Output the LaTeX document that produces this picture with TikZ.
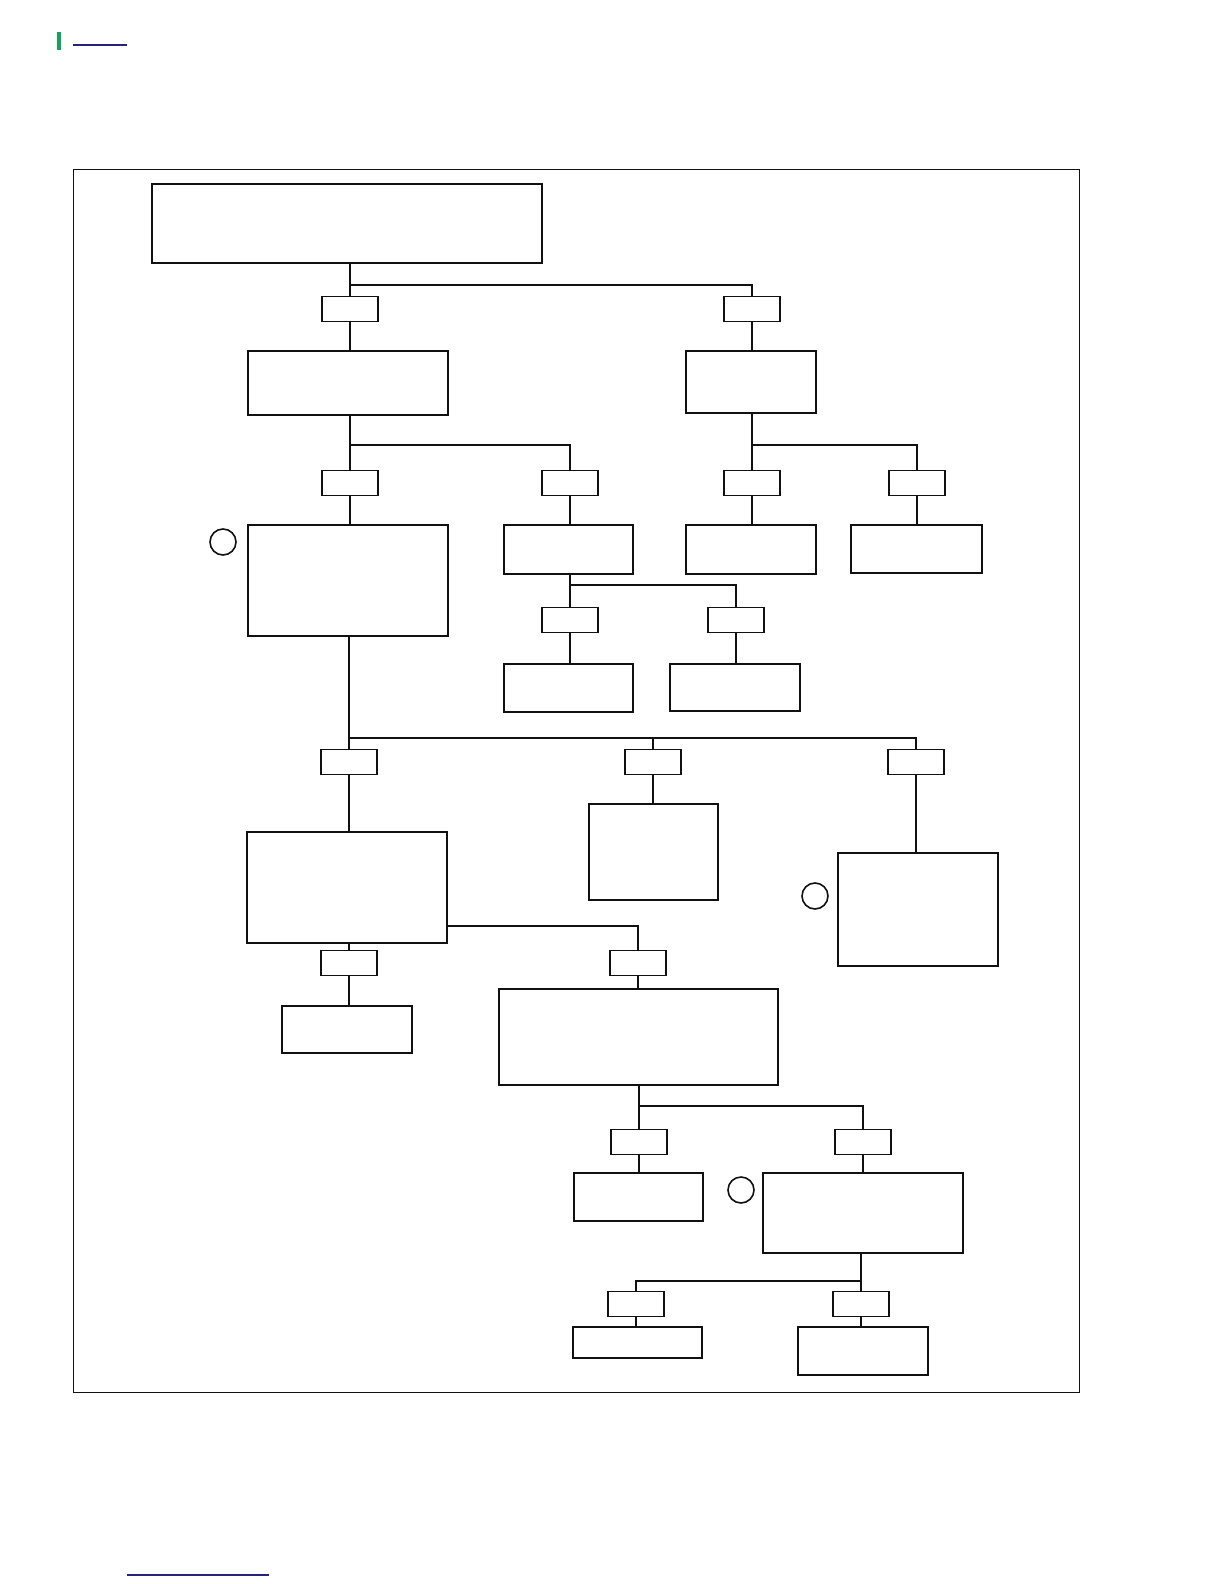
\documentclass[tikz,border=0pt]{standalone}
\usepackage{tikz}
\usetikzlibrary{positioning,fit}
\definecolor{ink}{HTML}{111111}
\definecolor{tabgreen}{HTML}{14A35E}
\definecolor{rulenavy}{HTML}{24247A}
\tikzset{
  blk/.style={draw=ink,line width=1.8pt,inner sep=0pt},
  tag/.style={draw=ink,line width=1.8pt,minimum width=56pt,minimum height=25pt,inner sep=0pt},
  circ/.style={draw=ink,circle,line width=1.6pt,minimum size=26pt,inner sep=0pt},
  wire/.style={draw=ink,line width=1.8pt}
}
\begin{document}
\begin{tikzpicture}[x=1pt,y=-1pt]
  \useasboundingbox (0,0) rectangle (1224,1584);
  % header and footer marks
  \fill[tabgreen] (57,32) rectangle (61,50);
  \draw[rulenavy,line width=1.2pt] (73,45) -- (127,45);
  \draw[rulenavy,line width=1.2pt] (127,1575) -- (269,1575);
  % frame
  \draw[ink,line width=0.8pt] (73,169) rectangle (1079,1392);

  % large boxes
  \foreach \nm/\xa/\ya/\xb/\yb in {
    T/152/184/542/263, A/248/351/448/415, B/686/351/816/413,
    C/248/525/448/636, D/504/525/633/574, E/686/525/816/574, F/851/525/982/573,
    G/504/664/633/712, H/670/664/800/711,
    I/247/832/447/943, J/589/804/718/900, K/838/853/998/966,
    L/282/1006/412/1053, M/499/989/778/1085,
    N/574/1173/703/1221, O/763/1173/963/1253,
    P/573/1327/702/1358, Q/798/1327/928/1375}
    \node[blk,fit={(\xa,\ya)(\xb,\yb)}] (\nm) {};

  % small tags on the branches
  \foreach \nm/\xx/\yy in {
    s1/350/309, s2/752/309, s3/350/483, s4/570/483, s5/752/483, s6/917/483,
    s7/570/620, s8/736/620, s9/349/762, s10/653/762, s11/916/762,
    s12/349/963, s13/638/963, s14/639/1142, s15/863/1142,
    s16/636/1304, s17/861/1304}
    \node[tag] (\nm) at (\xx,\yy) {};

  % markers
  \node[circ] (c1) at (223,542) {};
  \node[circ] (c2) at (815,896) {};
  \node[circ] (c3) at (741,1190) {};

  % junction levels
  \coordinate (j1) at (0,285);
  \coordinate (j2) at (0,445);
  \coordinate (j4) at (0,585);
  \coordinate (j5) at (0,738);
  \coordinate (j6) at (0,926);
  \coordinate (j7) at (0,1106);
  \coordinate (j8) at (0,1281);

  % connectors
  \draw[wire] (T.south -| s1) -- (s1.north) (s1 |- j1) -| (s2.north)
    (s1.south) -- (s1.south |- A.north) (s2.south) -- (s2.south |- B.north);
  \draw[wire] (A.south -| s3) -- (s3.north) (s3 |- j2) -| (s4.north)
    (s3.south) -- (s3.south |- C.north) (s4.south) -- (s4.south |- D.north);
  \draw[wire] (B.south -| s5) -- (s5.north) (s5 |- j2) -| (s6.north)
    (s5.south) -- (s5.south |- E.north) (s6.south) -- (s6.south |- F.north);
  \draw[wire] (D.south -| s7) -- (s7.north) (s7 |- j4) -| (s8.north)
    (s7.south) -- (s7.south |- G.north) (s8.south) -- (s8.south |- H.north);
  \draw[wire] (C.south -| s9) -- (s9.north) (s9 |- j5) -| (s11.north)
    (s10 |- j5) -- (s10.north)
    (s9.south) -- (s9.south |- I.north) (s10.south) -- (s10.south |- J.north)
    (s11.south) -- (s11.south |- K.north);
  \draw[wire] (I.south -| s12) -- (s12.north) (s12.south) -- (s12.south |- L.north);
  \draw[wire] (I.east |- j6) -| (s13.north) (s13.south) -- (s13.south |- M.north);
  \draw[wire] (M.south -| s14) -- (s14.north) (s14 |- j7) -| (s15.north)
    (s14.south) -- (s14.south |- N.north) (s15.south) -- (s15.south |- O.north);
  \draw[wire] (O.south -| s17) -- (s17.north) (s17 |- j8) -| (s16.north)
    (s16.south) -- (s16.south |- P.north) (s17.south) -- (s17.south |- Q.north);
\end{tikzpicture}
\end{document}
